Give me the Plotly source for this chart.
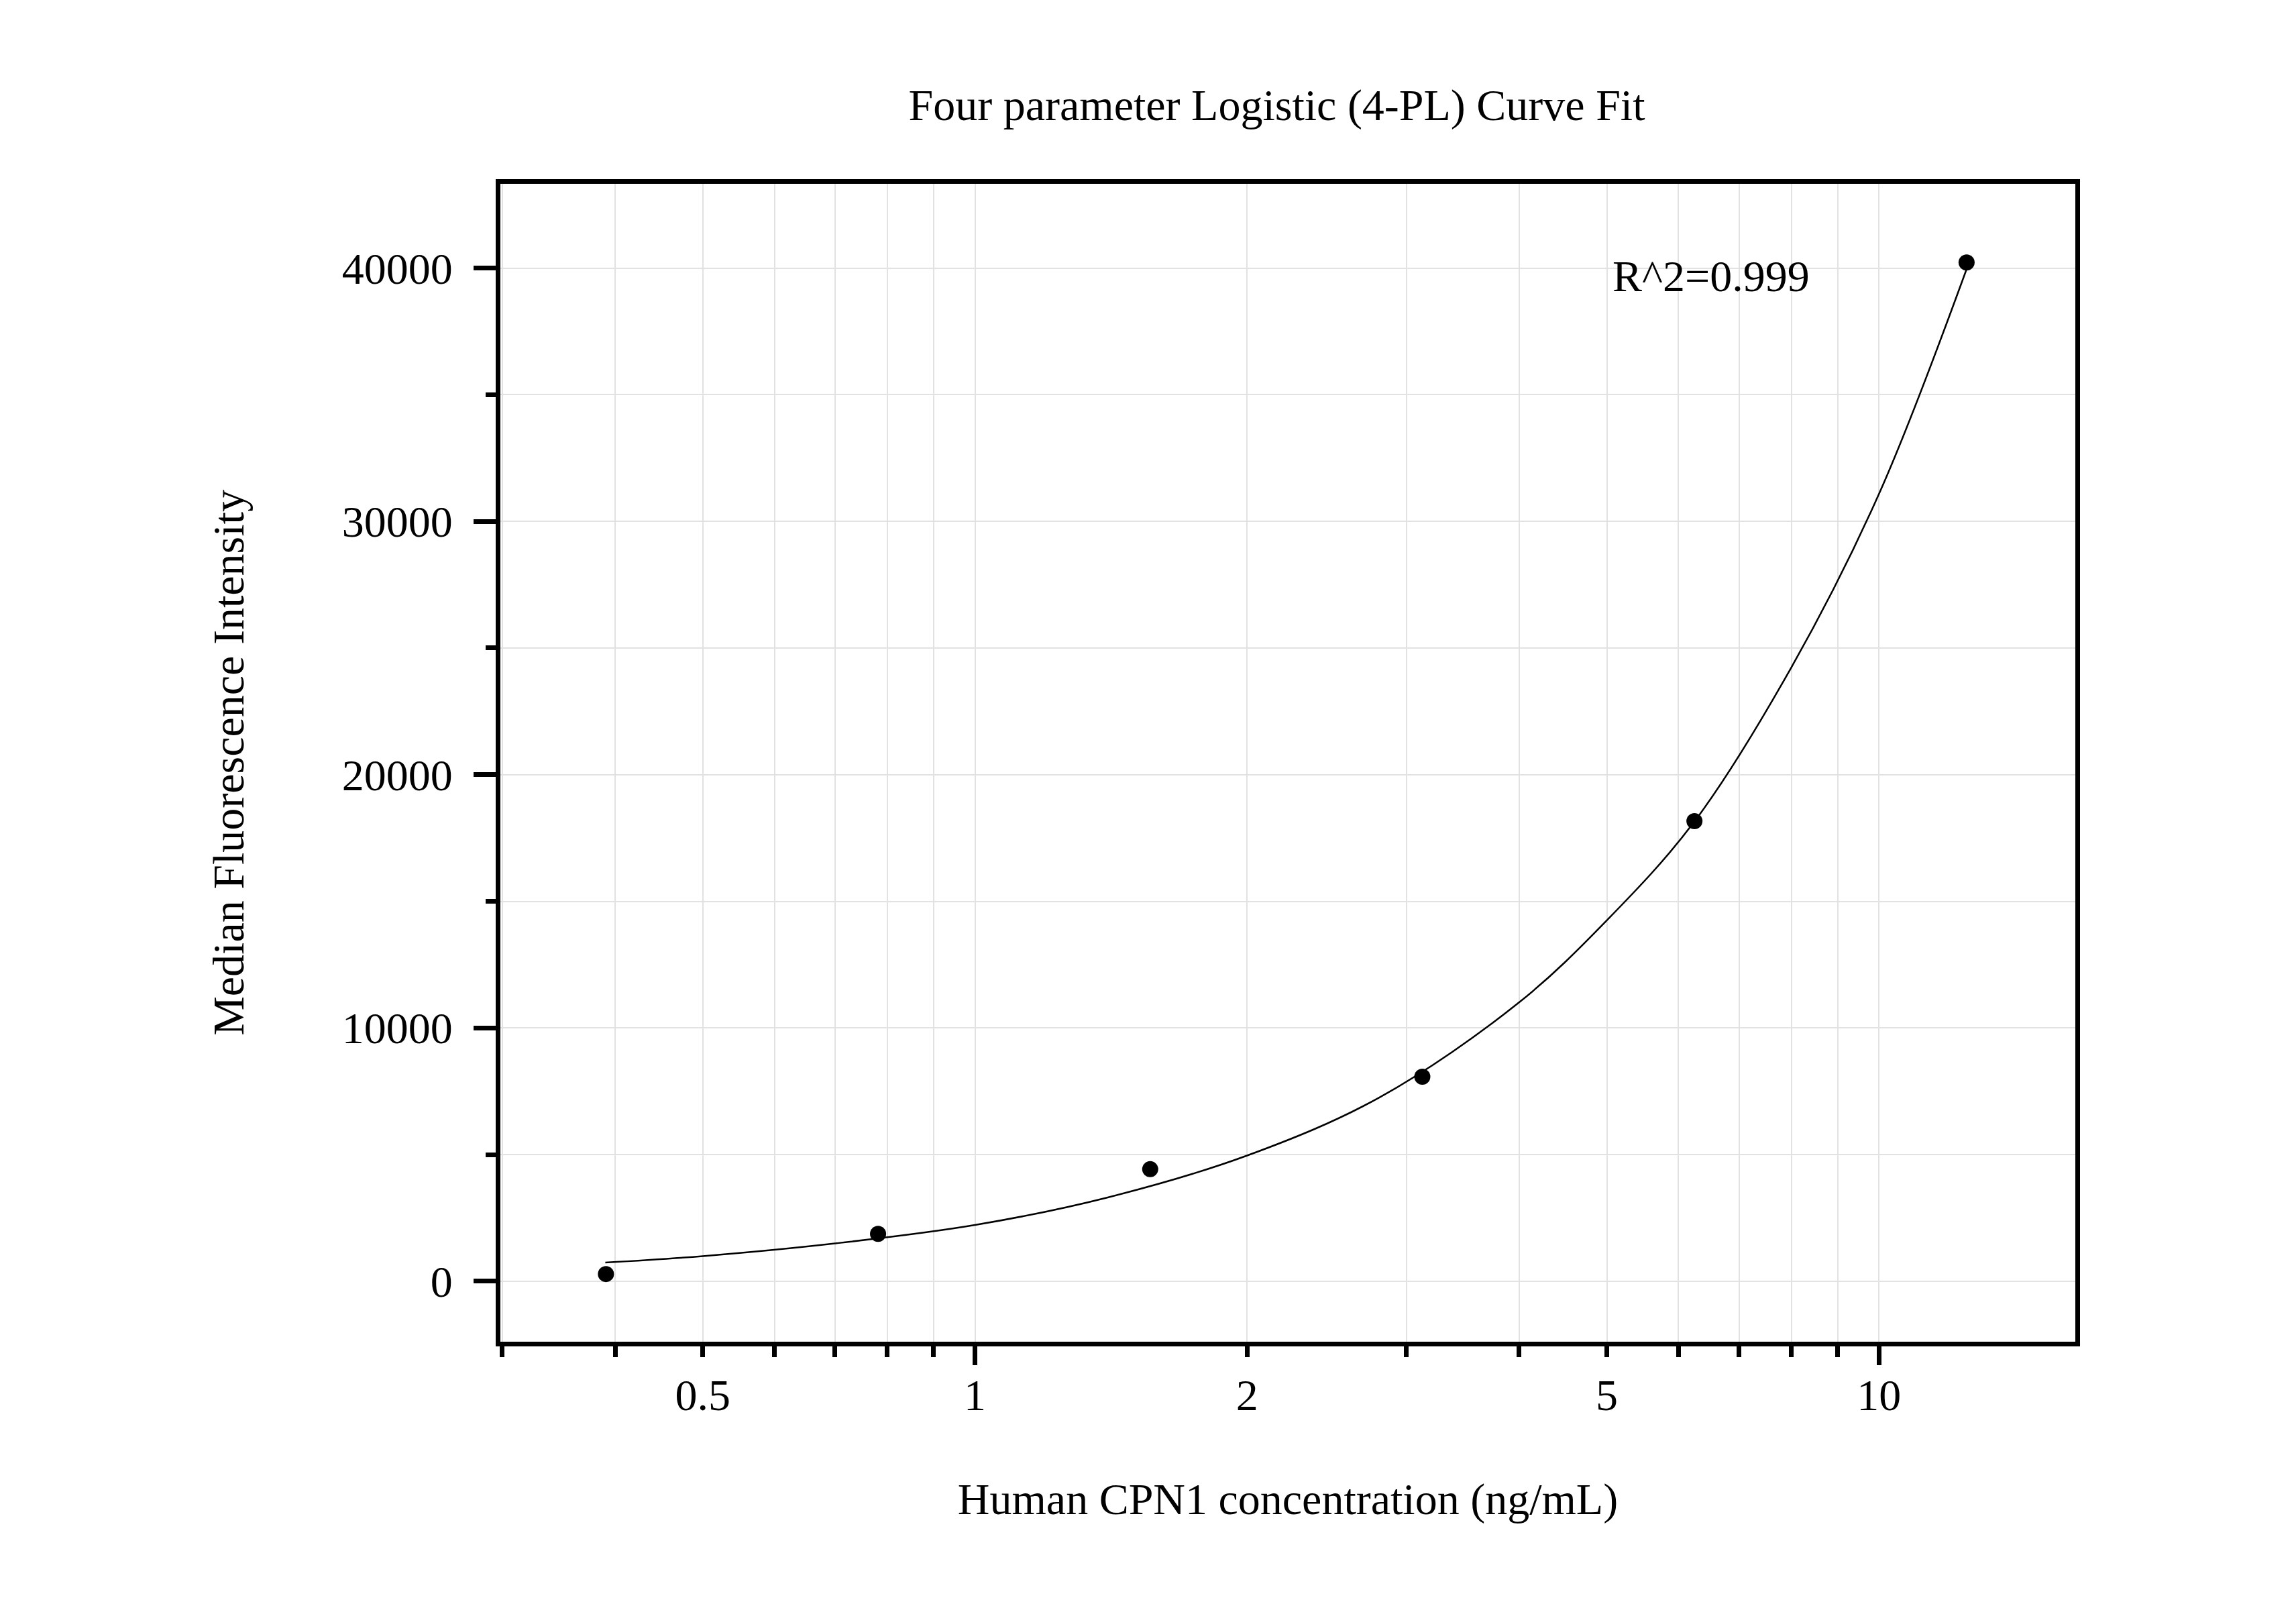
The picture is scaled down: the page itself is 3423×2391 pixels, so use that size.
import plotly.graph_objects as go

# ── Data ──────────────────────────────────────────────────────────────────────
conc = [0.390625, 0.78125, 1.5625, 3.125, 6.25, 12.5]
mfi = [282, 1867, 4421, 8074, 18168, 40224]

# fitted 4-PL curve, sampled along the drawn line
fit_conc = [0.39, 0.5, 0.7, 1.0, 1.4, 2.0, 2.8, 4.0, 5.0, 6.25, 8.0, 10.0, 12.5]
fit_mfi = [736, 990, 1490, 2218, 3300, 4960, 7250, 11012, 14248, 18150, 24236, 31084, 39960]

x_ticks = [0.5, 1, 2, 5, 10]
x_tick_text = ["0.5", "1", "2", "5", "10"]
x_minor = [0.3, 0.4, 0.6, 0.7, 0.8, 0.9, 3, 4, 6, 7, 8, 9]
x_long = [1, 10]
y_ticks = [0, 10000, 20000, 30000, 40000]
y_tick_text = ["0", "10000", "20000", "30000", "40000"]

FONT = "Liberation Serif, Times New Roman, serif"
GRID = "#e2e2e2"
X_RANGE = [-0.525, 1.2172]   # log10 of ~0.2985 .. ~16.49

fig = go.Figure()

fig.add_trace(go.Scatter(
    x=fit_conc, y=fit_mfi, mode="lines",
    line=dict(color="black", width=2.5, shape="spline", smoothing=1.0),
    showlegend=False, hoverinfo="skip",
))
fig.add_trace(go.Scatter(
    x=conc, y=mfi, mode="markers",
    marker=dict(color="black", size=24),
    showlegend=False,
))

# dummy trace on the second x axis so its long ticks get drawn
fig.add_trace(go.Scatter(x=[1], y=[0], xaxis="x2", mode="markers",
                         marker=dict(opacity=0), showlegend=False, hoverinfo="skip"))

fig.add_annotation(
    text="R^2=0.999", xref="paper", yref="paper",
    x=0.7053, y=0.9206, xanchor="left", yanchor="middle",
    showarrow=False, font=dict(family=FONT, size=66, color="black"),
)

fig.update_layout(
    width=3423, height=2391,
    margin=dict(l=738, r=337, t=266, b=399),
    paper_bgcolor="white", plot_bgcolor="white",
    font=dict(family=FONT, size=66, color="black"),
    title=dict(
        text="Four parameter Logistic (4-PL) Curve Fit",
        x=0.493, xref="paper", xanchor="center",
        y=1 - 148 / 2391, yanchor="middle",
        font=dict(family=FONT, size=66, color="black"),
    ),
    xaxis=dict(
        type="log", range=X_RANGE,
        tickmode="array", tickvals=x_ticks, ticktext=x_tick_text,
        ticks="outside", ticklen=16, tickwidth=7, tickcolor="black",
        ticklabelstandoff=0,
        showgrid=True, gridcolor=GRID, gridwidth=2,
        minor=dict(tickvals=x_minor, ticks="outside", ticklen=16, tickwidth=7,
                   tickcolor="black", showgrid=True, gridcolor=GRID, gridwidth=2),
        showline=True, linecolor="black", linewidth=7, mirror=True,
        zeroline=False,
        title=dict(text="Human CPN1 concentration (ng/mL)", standoff=98,
                   font=dict(family=FONT, size=66)),
    ),
    xaxis2=dict(
        type="log", range=X_RANGE, overlaying="x", anchor="y", side="bottom",
        tickmode="array", tickvals=x_long, showticklabels=False,
        ticks="outside", ticklen=34, tickwidth=7, tickcolor="black",
        showgrid=False, showline=False, zeroline=False,
    ),
    yaxis=dict(
        range=[-2390, 43330],
        tickmode="array", tickvals=y_ticks, ticktext=y_tick_text,
        ticks="outside", ticklen=33, tickwidth=7, tickcolor="black",
        ticklabelstandoff=18,
        showgrid=True, gridcolor=GRID, gridwidth=2,
        minor=dict(dtick=5000, ticks="outside", ticklen=15, tickwidth=7,
                   tickcolor="black", showgrid=True, gridcolor=GRID, gridwidth=2),
        showline=True, linecolor="black", linewidth=7, mirror=True,
        zeroline=False,
        title=dict(text="Median Fluorescence Intensity", standoff=127,
                   font=dict(family=FONT, size=66)),
    ),
)

fig.write_html("out.html")
